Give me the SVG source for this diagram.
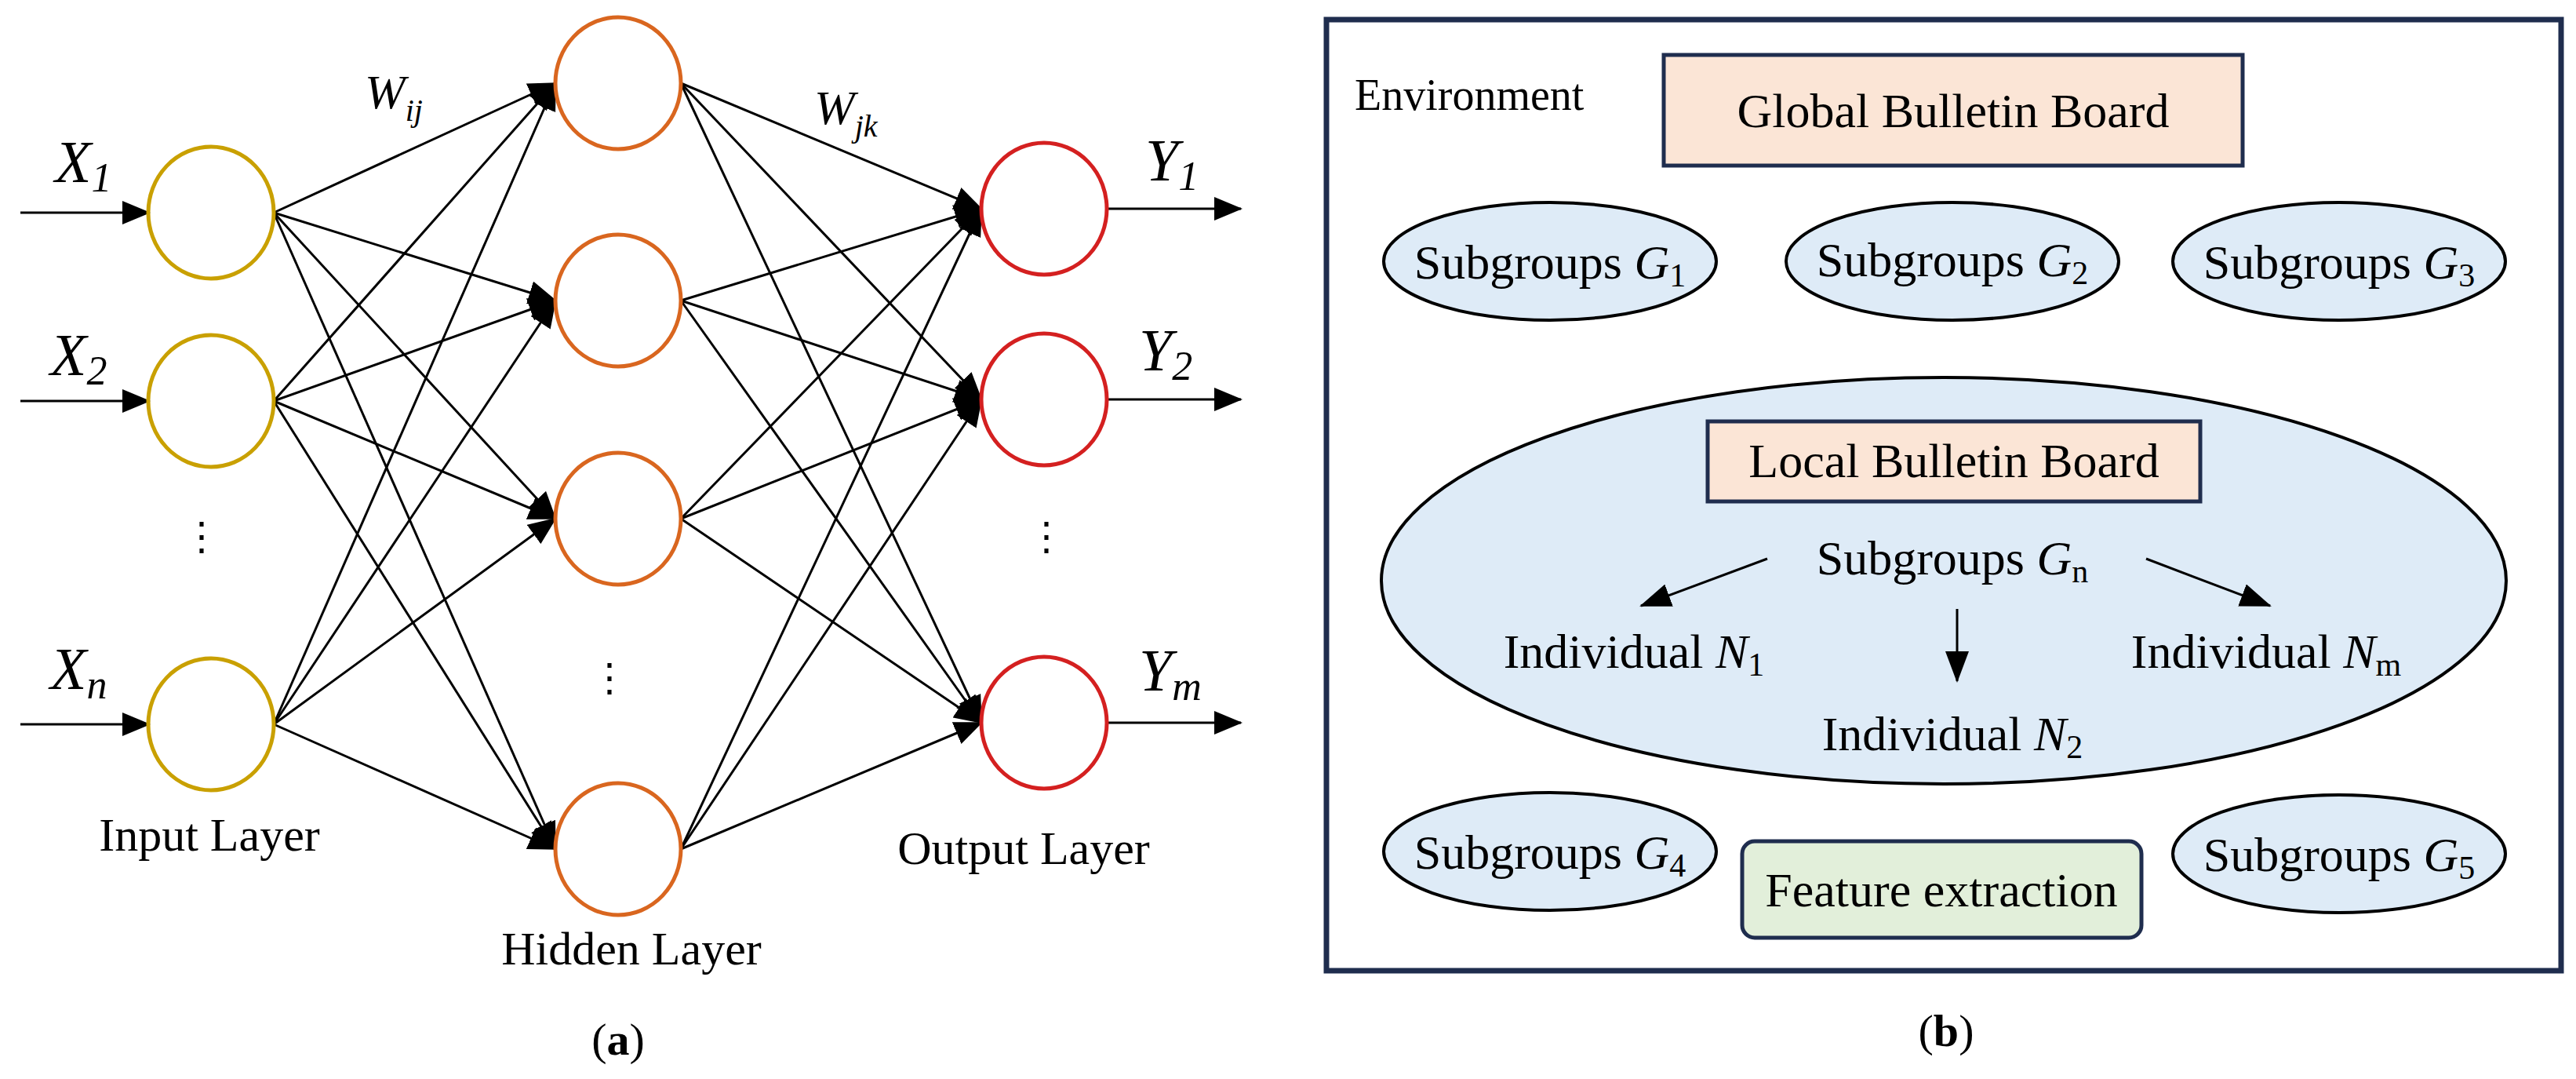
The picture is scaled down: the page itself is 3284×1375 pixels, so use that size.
<svg xmlns="http://www.w3.org/2000/svg" width="3284" height="1375" viewBox="0 0 3284 1375">
<style>
text{font-family:"Liberation Serif","Times New Roman",serif;fill:#000}
.it{font-style:italic}
.in{fill:none;stroke:#c9a000;stroke-width:5}
.hid{fill:none;stroke:#d9661f;stroke-width:5}
.out{fill:none;stroke:#d42020;stroke-width:5}
.c{stroke:#000;stroke-width:3;fill:none}
.sg{fill:#deebf7;stroke:#000;stroke-width:4}
.bb{fill:#fbe5d6;stroke:#1f2d4e;stroke-width:5}
</style>
<defs>
<marker id="ah" markerUnits="userSpaceOnUse" markerWidth="36" markerHeight="30" refX="34" refY="15" orient="auto"><path d="M0,0 L36,15 L0,30 Z" fill="#000"/></marker>
<marker id="as" markerUnits="userSpaceOnUse" markerWidth="40" markerHeight="30" refX="38" refY="15" orient="auto"><path d="M0,0 L40,15 L0,30 Z" fill="#000"/></marker>
</defs>
<rect width="3284" height="1375" fill="#fff"/>
<g id="connectors">
<g marker-end="url(#ah)" class="c">
<line x1="26" y1="271" x2="190" y2="271"/><line x1="26" y1="511" x2="190" y2="511"/><line x1="26" y1="923" x2="190" y2="923"/>
<line x1="1411" y1="266" x2="1582" y2="266"/><line x1="1411" y1="509" x2="1582" y2="509"/><line x1="1411" y1="921" x2="1582" y2="921"/>
<line x1="349" y1="271" x2="708" y2="106"/><line x1="349" y1="271" x2="708" y2="383"/><line x1="349" y1="271" x2="708" y2="661"/><line x1="349" y1="271" x2="708" y2="1082"/>
<line x1="349" y1="511" x2="708" y2="106"/><line x1="349" y1="511" x2="708" y2="383"/><line x1="349" y1="511" x2="708" y2="661"/><line x1="349" y1="511" x2="708" y2="1082"/>
<line x1="349" y1="923" x2="708" y2="106"/><line x1="349" y1="923" x2="708" y2="383"/><line x1="349" y1="923" x2="708" y2="661"/><line x1="349" y1="923" x2="708" y2="1082"/>
<line x1="868" y1="106" x2="1251" y2="266"/><line x1="868" y1="106" x2="1251" y2="509"/><line x1="868" y1="106" x2="1251" y2="921"/>
<line x1="868" y1="383" x2="1251" y2="266"/><line x1="868" y1="383" x2="1251" y2="509"/><line x1="868" y1="383" x2="1251" y2="921"/>
<line x1="868" y1="661" x2="1251" y2="266"/><line x1="868" y1="661" x2="1251" y2="509"/><line x1="868" y1="661" x2="1251" y2="921"/>
<line x1="868" y1="1082" x2="1251" y2="266"/><line x1="868" y1="1082" x2="1251" y2="509"/><line x1="868" y1="1082" x2="1251" y2="921"/>
</g>
</g>
<g id="input-nodes">
<ellipse class="in" cx="269" cy="271" rx="80" ry="84"/><ellipse class="in" cx="269" cy="511" rx="80" ry="84"/><ellipse class="in" cx="269" cy="923" rx="80" ry="84"/>
</g>
<g id="hidden-nodes">
<ellipse class="hid" cx="788" cy="106" rx="80" ry="84"/><ellipse class="hid" cx="788" cy="383" rx="80" ry="84"/><ellipse class="hid" cx="788" cy="661" rx="80" ry="84"/><ellipse class="hid" cx="788" cy="1082" rx="80" ry="84"/>
</g>
<g id="output-nodes">
<ellipse class="out" cx="1331" cy="266" rx="80" ry="84"/><ellipse class="out" cx="1331" cy="509" rx="80" ry="84"/><ellipse class="out" cx="1331" cy="921" rx="80" ry="84"/>
</g>
<g id="nn-labels" font-size="76">
<text x="70" y="232" class="it">X<tspan font-size="52" dy="12">1</tspan></text>
<text x="64" y="478" class="it">X<tspan font-size="52" dy="12">2</tspan></text>
<text x="64" y="878" class="it">X<tspan font-size="52" dy="12">n</tspan></text>
<text x="1460" y="230" class="it">Y<tspan font-size="52" dy="12">1</tspan></text>
<text x="1452" y="472" class="it">Y<tspan font-size="52" dy="12">2</tspan></text>
<text x="1452" y="880" class="it">Y<tspan font-size="52" dy="12">m</tspan></text>
<text x="465" y="138" font-size="62" class="it">W<tspan font-size="40" dy="16">ij</tspan></text>
<text x="1038" y="158" font-size="62" class="it">W<tspan font-size="40" dy="16">jk</tspan></text>
<text x="257" y="700" font-size="50" text-anchor="middle">⋮</text>
<text x="777" y="880" font-size="50" text-anchor="middle">⋮</text>
<text x="1334" y="700" font-size="50" text-anchor="middle">⋮</text>
<text x="267" y="1084" font-size="60" text-anchor="middle">Input Layer</text>
<text x="805" y="1229" font-size="60" text-anchor="middle">Hidden Layer</text>
<text x="1305" y="1101" font-size="60" text-anchor="middle">Output Layer</text>
<text x="788" y="1344" font-size="58" text-anchor="middle">(<tspan font-weight="bold">a</tspan>)</text>
</g>
<g id="environment">
<rect x="1691" y="25" width="1574" height="1212" fill="none" stroke="#1f2d4e" stroke-width="7"/>
<text x="1727" y="140" font-size="56">Environment</text>
</g>
<g id="global-bb"><rect class="bb" x="2121" y="70" width="738" height="141"/><text x="2490" y="162" font-size="62" text-anchor="middle">Global Bulletin Board</text></g>
<g id="g1"><ellipse class="sg" cx="1976" cy="333" rx="212" ry="75"/><text x="1976" y="355" font-size="62" text-anchor="middle">Subgroups <tspan class="it">G</tspan><tspan font-size="42" dy="10">1</tspan></text></g>
<g id="g2"><ellipse class="sg" cx="2489" cy="333" rx="212" ry="75"/><text x="2489" y="352" font-size="62" text-anchor="middle">Subgroups <tspan class="it">G</tspan><tspan font-size="42" dy="10">2</tspan></text></g>
<g id="g3"><ellipse class="sg" cx="2982" cy="333" rx="212" ry="75"/><text x="2982" y="355" font-size="62" text-anchor="middle">Subgroups <tspan class="it">G</tspan><tspan font-size="42" dy="10">3</tspan></text></g>
<g id="gn">
<ellipse class="sg" cx="2478" cy="740" rx="717" ry="259"/>
<rect class="bb" x="2177" y="537" width="628" height="102"/>
<text x="2491" y="608" font-size="62" text-anchor="middle">Local Bulletin Board</text>
<text x="2489" y="732" font-size="62" text-anchor="middle">Subgroups <tspan class="it">G</tspan><tspan font-size="42" dy="10">n</tspan></text>
<g class="c" marker-end="url(#as)"><line x1="2253" y1="712" x2="2092" y2="772"/><line x1="2736" y1="712" x2="2894" y2="772"/><line x1="2495" y1="776" x2="2495" y2="868"/></g>
</g>
<g id="n1"><text x="2083" y="851" font-size="62" text-anchor="middle">Individual <tspan class="it">N</tspan><tspan font-size="42" dy="10">1</tspan></text></g>
<g id="nm"><text x="2889" y="851" font-size="62" text-anchor="middle">Individual <tspan class="it">N</tspan><tspan font-size="42" dy="10">m</tspan></text></g>
<g id="n2"><text x="2489" y="956" font-size="62" text-anchor="middle">Individual <tspan class="it">N</tspan><tspan font-size="42" dy="10">2</tspan></text></g>
<g id="g4"><ellipse class="sg" cx="1976" cy="1085" rx="212" ry="75"/><text x="1976" y="1107" font-size="62" text-anchor="middle">Subgroups <tspan class="it">G</tspan><tspan font-size="42" dy="10">4</tspan></text></g>
<g id="g5"><ellipse class="sg" cx="2982" cy="1088" rx="212" ry="75"/><text x="2982" y="1110" font-size="62" text-anchor="middle">Subgroups <tspan class="it">G</tspan><tspan font-size="42" dy="10">5</tspan></text></g>
<g id="feature"><rect x="2221" y="1072" width="509" height="123" rx="16" fill="#e2efda" stroke="#1f2d4e" stroke-width="5"/><text x="2475" y="1155" font-size="62" text-anchor="middle">Feature extraction</text></g>
<text x="2481" y="1333" font-size="58" text-anchor="middle">(<tspan font-weight="bold">b</tspan>)</text>
</svg>
